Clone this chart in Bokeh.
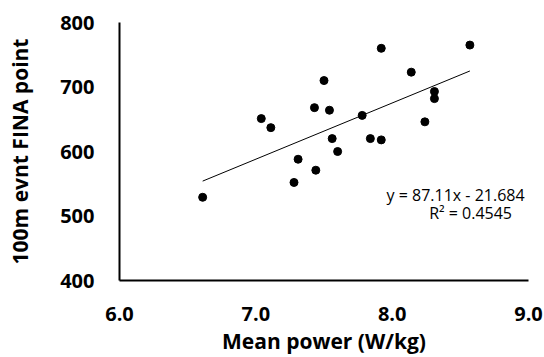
from bokeh.plotting import figure
from bokeh.models import Range1d, Label, FixedTicker
from bokeh.embed import file_html
from bokeh.resources import INLINE

mean_power = [6.61, 7.04, 7.11, 7.28, 7.31, 7.44, 7.43, 7.50, 7.54, 7.56,
              7.60, 7.78, 7.84, 7.92, 7.92, 8.14, 8.24, 8.31, 8.31, 8.57]
fina_point = [529, 651, 637, 552, 588, 571, 668, 710, 664, 620,
              600, 656, 620, 618, 760, 723, 646, 693, 682, 765]

slope = 87.11
intercept = -21.684
x_ticks = [6, 7, 8, 9]
y_ticks = [400, 500, 600, 700, 800]
x_tick_labels = {6: "6.0", 7: "7.0", 8: "8.0", 9: "9.0"}
eq_text = "y = 87.11x - 21.684"
r2_text = "R\u00b2 = 0.4545"

FONT = "Open Sans"

p = figure(width=544, height=357, output_backend="svg", toolbar_location=None,
           x_range=Range1d(6, 9), y_range=Range1d(400, 800),
           min_border_left=119, min_border_right=16, min_border_top=22, min_border_bottom=77)
p.outline_line_color = None
p.grid.visible = False
p.background_fill_color = "white"
p.border_fill_color = "white"

p.scatter(mean_power, fina_point, size=8, color="black")

x0, x1 = min(mean_power), max(mean_power)
p.line([x0, x1], [slope * x0 + intercept, slope * x1 + intercept], line_color="black", line_width=1)

for ax in (p.xaxis[0], p.yaxis[0]):
    ax.axis_line_width = 2
    ax.axis_line_color = "black"
    ax.major_tick_line_color = None
    ax.minor_tick_line_color = None
    ax.major_tick_out = 0
    ax.major_tick_in = 0
    ax.minor_tick_out = 0
    ax.minor_tick_in = 0
    ax.major_label_text_font = FONT
    ax.major_label_text_font_style = "bold"
    ax.major_label_text_font_size = "20px"
    ax.major_label_text_color = "black"
    ax.axis_label_text_font = FONT
    ax.axis_label_text_font_style = "bold"
    ax.axis_label_text_font_size = "21px"
    ax.axis_label_text_color = "black"

p.xaxis.ticker = FixedTicker(ticks=x_ticks)
p.xaxis.major_label_overrides = x_tick_labels
p.yaxis.ticker = FixedTicker(ticks=y_ticks)
p.xaxis.axis_label = "Mean power (W/kg)"
p.yaxis.axis_label = "100m evnt FINA point"
p.xaxis.major_label_standoff = 26
p.yaxis.major_label_standoff = 25
p.xaxis.axis_label_standoff = 3
p.yaxis.axis_label_standoff = 23

p.add_layout(Label(x=8.465, y=532, text=eq_text, text_align="center", text_baseline="middle",
                   text_font=FONT, text_font_size="16px", text_color="black"))
p.add_layout(Label(x=8.575, y=505, text=r2_text, text_align="center", text_baseline="middle",
                   text_font=FONT, text_font_size="16px", text_color="black"))

open("out.html", "w").write(file_html(p, INLINE))
